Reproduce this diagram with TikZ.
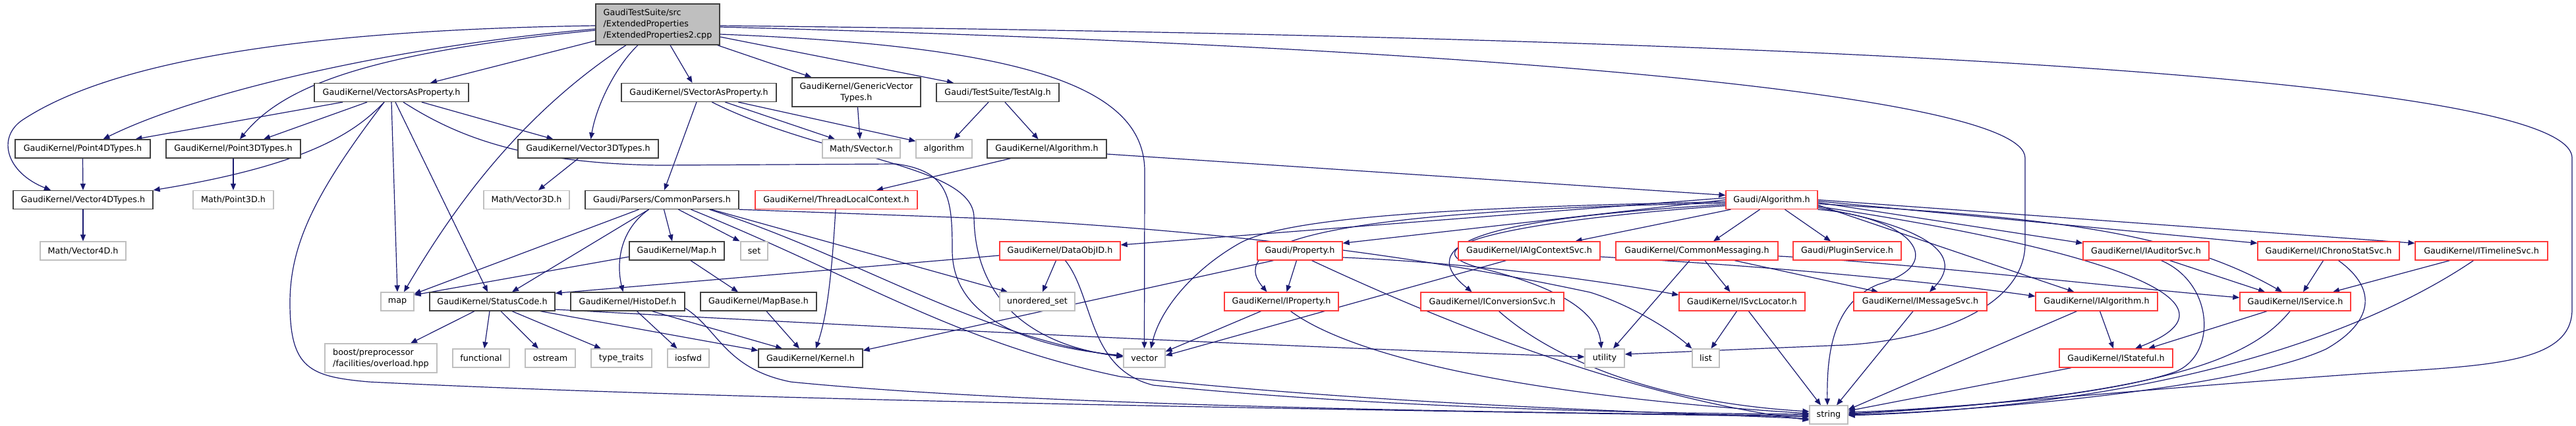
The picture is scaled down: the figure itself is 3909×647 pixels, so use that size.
\documentclass[tikz,border=0pt]{standalone}
\usepackage{fontspec}
\setmainfont{DejaVu Sans}
\usetikzlibrary{arrows.meta}
\pgfdeclarelayer{bg}
\pgfsetlayers{bg,main}
\definecolor{edgecol}{HTML}{191970}
\definecolor{greyb}{HTML}{BFBFBF}
\definecolor{darkb}{HTML}{404040}
\definecolor{redb}{HTML}{FF3A3A}
\newcommand\gfont{\fontsize{12.75pt}{17pt}\selectfont}
\tikzset{
 nd/.style={rectangle, inner sep=0pt, minimum height=28pt, line width=1.3pt, font=\gfont, text=black},
 blk/.style={nd, draw=darkb, fill=white},
 gry/.style={nd, draw=greyb, fill=white},
 rd/.style={nd, draw=redb, fill=white},
 dep/.style={draw=edgecol, line width=1.2pt, -{Triangle[length=10pt,width=8pt]}},
}
\begin{document}
\begin{tikzpicture}[x=1pt,y=-1pt]
\useasboundingbox (0,0) rectangle (3909,647);
% row 0
\node[blk, fill=greyb, minimum width=188pt, minimum height=62pt, align=left] (root) at (998,37) {GaudiTestSuite/src\\/ExtendedProperties\\/ExtendedProperties2.cpp};
% row 1
\node[blk, minimum width=234pt] (vap) at (594,140.5) {GaudiKernel/VectorsAsProperty.h};
\node[blk, minimum width=235pt] (svap) at (1060.5,140.5) {GaudiKernel/SVectorAsProperty.h};
\node[blk, minimum width=195pt, minimum height=44pt, align=center] (gvt) at (1299.5,140) {GaudiKernel/GenericVector\\Types.h};
\node[blk, minimum width=186pt] (testalg) at (1514,140.5) {Gaudi/TestSuite/TestAlg.h};
% row 2
\node[blk, minimum width=205pt] (p4d) at (125.5,226) {GaudiKernel/Point4DTypes.h};
\node[blk, minimum width=204pt] (p3d) at (354,226) {GaudiKernel/Point3DTypes.h};
\node[blk, minimum width=213pt] (v3d) at (892.5,226) {GaudiKernel/Vector3DTypes.h};
\node[gry, minimum width=118pt] (svec) at (1307,226) {Math/SVector.h};
\node[gry, minimum width=85pt] (algo) at (1432.5,226) {algorithm};
\node[blk, minimum width=181pt] (gkalg) at (1588.5,226) {GaudiKernel/Algorithm.h};
% row 3
\node[blk, minimum width=212pt] (v4d) at (126,303.5) {GaudiKernel/Vector4DTypes.h};
\node[gry, minimum width=122pt] (mp3d) at (354,303.5) {Math/Point3D.h};
\node[gry, minimum width=130pt] (mv3d) at (799,303.5) {Math/Vector3D.h};
\node[blk, minimum width=233pt] (cparsers) at (1004.5,303.5) {Gaudi/Parsers/CommonParsers.h};
\node[rd, minimum width=246pt] (tlc) at (1269,303.5) {GaudiKernel/ThreadLocalContext.h};
\node[rd, minimum width=139pt] (galg) at (2688.5,303.5) {Gaudi/Algorithm.h};
% row 4
\node[gry, minimum width=130pt] (mv4d) at (126,381) {Math/Vector4D.h};
\node[blk, minimum width=144pt] (maph) at (1027,381) {GaudiKernel/Map.h};
\node[gry, minimum width=41pt] (set) at (1144.5,381) {set};
\node[rd, minimum width=183pt] (dataobj) at (1608.5,381) {GaudiKernel/DataObjID.h};
\node[rd, minimum width=129pt] (prop) at (1972.5,381) {Gaudi/Property.h};
\node[rd, minimum width=215pt] (ialgctx) at (2320.5,381) {GaudiKernel/IAlgContextSvc.h};
\node[rd, minimum width=246pt] (cmsg) at (2575,381) {GaudiKernel/CommonMessaging.h};
\node[rd, minimum width=164pt] (plugin) at (2803,381) {Gaudi/PluginService.h};
\node[rd, minimum width=191pt] (iaud) at (3256.5,381) {GaudiKernel/IAuditorSvc.h};
\node[rd, minimum width=215pt] (ichrono) at (3533.5,381) {GaudiKernel/IChronoStatSvc.h};
\node[rd, minimum width=201pt] (itime) at (3765.5,381) {GaudiKernel/ITimelineSvc.h};
% row 5
\node[gry, minimum width=50pt] (map) at (603,458) {map};
\node[blk, minimum width=190pt] (status) at (747,458) {GaudiKernel/StatusCode.h};
\node[blk, minimum width=173pt] (histo) at (952.5,458) {GaudiKernel/HistoDef.h};
\node[blk, minimum width=176pt] (mapbase) at (1151,458) {GaudiKernel/MapBase.h};
\node[gry, minimum width=114pt] (uset) at (1574,458) {unordered\_set};
\node[rd, minimum width=173pt] (iprop) at (1944.5,458) {GaudiKernel/IProperty.h};
\node[rd, minimum width=217pt] (iconv) at (2264.5,458) {GaudiKernel/IConversionSvc.h};
\node[rd, minimum width=191pt] (isvcloc) at (2643.5,458) {GaudiKernel/ISvcLocator.h};
\node[rd, minimum width=202pt] (imsg) at (2914,458) {GaudiKernel/IMessageSvc.h};
\node[rd, minimum width=185pt] (ialg) at (3181.5,458) {GaudiKernel/IAlgorithm.h};
\node[rd, minimum width=168pt] (iserv) at (3483,458) {GaudiKernel/IService.h};
% row 6
\node[gry, minimum width=170pt, minimum height=44pt, align=left] (boost) at (578,544) {boost/preprocessor\\/facilities/overload.hpp};
\node[gry, minimum width=86pt] (functional) at (730,544) {functional};
\node[gry, minimum width=76pt] (ostream) at (835,544) {ostream};
\node[gry, minimum width=92pt] (typetraits) at (943,544) {type\_traits};
\node[gry, minimum width=63pt] (iosfwd) at (1044.5,544) {iosfwd};
\node[blk, minimum width=158pt] (kernel) at (1230,544) {GaudiKernel/Kernel.h};
\node[gry, minimum width=63pt] (vector) at (1736.5,544) {vector};
\node[gry, minimum width=60pt] (utility) at (2435,544) {utility};
\node[gry, minimum width=41pt] (list) at (2588.5,544) {list};
\node[rd, minimum width=172pt] (istateful) at (3211,544) {GaudiKernel/IStateful.h};
% row 7
\node[gry, minimum width=58pt] (string) at (2775,630) {string};

\begin{pgfonlayer}{bg}
% ---- root edges
\draw[dep] ([yshift=-2pt]root.west) .. controls (500,45) and (180,85) .. (33,183) .. controls (-5,210) and (10,262) .. ([xshift=-49pt]v4d.north);
\draw[dep] ([yshift=-7pt]root.west) .. controls (600,70) and (300,140) .. ([xshift=31pt]p4d.north);
\draw[dep] ([yshift=-9pt]root.west) .. controls (560,80) and (430,130) .. ([xshift=10pt]p3d.north);
\draw[dep] ([yshift=-25pt]root.west) -- ([xshift=59pt]vap.north);
\draw[dep] ([xshift=-48pt]root.south) .. controls (780,180) and (680,330) .. ([xshift=10pt]map.north);
\draw[dep] ([xshift=-30pt]root.south) .. controls (935,100) and (905,160) .. ([xshift=4pt]v3d.north);
\draw[dep] ([xshift=19pt]root.south) -- ([xshift=-10pt]svap.north);
\draw[dep] ([xshift=-4pt]root.south east) -- ([xshift=-68pt]gvt.north);
\draw[dep] ([yshift=-19pt]root.east) -- ([xshift=-67pt]testalg.north);
\draw[dep] ([yshift=-15pt]root.east) .. controls (1550,70) and (1737,130) .. (1737,260) -- (vector.north);
\draw[dep] ([yshift=-4pt]root.east) .. controls (2200,70) and (3073,140) .. (3073,240) -- (3073,370) .. controls (3073,460) and (2950,515) .. (2800,524) -- ([yshift=6pt]utility.east);
\draw[dep] ([yshift=-2pt]root.east) .. controls (2600,55) and (3903,110) .. (3903,240) -- (3903,470) .. controls (3903,560) and (3750,555) .. (3550,570) .. controls (3200,595) and (2950,622) .. ([yshift=4pt]string.east);

% ---- VectorsAsProperty
\draw[dep] ([xshift=-74pt]vap.south) -- ([xshift=80pt]p4d.north);
\draw[dep] ([xshift=-37pt]vap.south) -- ([xshift=46pt]p3d.north);
\draw[dep] ([xshift=-11pt]vap.south) .. controls (540,200) and (470,250) .. (v4d.north east);
\draw[dep] ([xshift=-11pt]vap.south) .. controls (480,290) and (440,370) .. (440,460) .. controls (440,560) and (470,572) .. (560,580) .. controls (1200,612) and (2300,626) .. ([yshift=-3pt]string.west);
\draw[dep] (vap.south) -- (map.north);
\draw[dep] ([xshift=6pt]vap.south) -- ([xshift=-7pt]status.north);
\draw[dep] ([xshift=18pt]vap.south) .. controls (690,205) and (790,248) .. (1000,251) -- (1360,249) .. controls (1440,260) and (1445,300) .. (1445,380) .. controls (1445,500) and (1600,530) .. ([yshift=4pt]vector.west);
\draw[dep] ([xshift=46pt]vap.south) -- ([xshift=-53pt]v3d.north);

% ---- SVectorAsProperty
\draw[dep] ([xshift=-3.5pt]svap.south) -- ([xshift=3.5pt]cparsers.north);
\draw[dep] ([xshift=20pt]svap.south) .. controls (1250,240) and (1477,250) .. (1478,330) .. controls (1480,480) and (1600,530) .. ([yshift=3pt]vector.west);
\draw[dep] ([xshift=40pt]svap.south) -- ([xshift=-40pt]svec.north);
\draw[dep] ([xshift=60pt]svap.south) -- ([yshift=-3pt]algo.north west);

\draw[dep] ([xshift=2pt]gvt.south) -- ([xshift=-2pt]svec.north);
\draw[dep] ([xshift=-14pt]testalg.south) -- ([xshift=15pt]algo.north);
\draw[dep] ([xshift=11pt]testalg.south) -- ([xshift=-13pt]gkalg.north);

\draw[dep] (p4d.south) -- (v4d.north);
\draw[dep] (p3d.south) -- (mp3d.north);
\draw[dep] (v4d.south) -- (mv4d.north);
\draw[dep] ([xshift=-15pt]v3d.south) -- ([xshift=18pt]mv3d.north);

% ---- GaudiKernel/Algorithm.h
\draw[dep] ([yshift=-8pt]gkalg.east) -- ([yshift=7pt]galg.west);
\draw[dep] ([xshift=-55pt]gkalg.south) -- ([xshift=61pt]tlc.north);
\draw[dep] ([xshift=-1pt]tlc.south) .. controls (1262,420) and (1255,480) .. ([xshift=8pt]kernel.north);

% ---- CommonParsers
\draw[dep] ([xshift=-35pt]cparsers.south) -- ([yshift=-3pt]map.north east);
\draw[dep] ([xshift=-20pt]cparsers.south) -- ([xshift=30pt]status.north);
\draw[dep] ([xshift=-20pt]cparsers.south) .. controls (940,350) and (935,400) .. ([xshift=-7pt]histo.north);
\draw[dep] ([xshift=3pt]cparsers.south) -- ([xshift=-7pt]maph.north);
\draw[dep] ([xshift=25pt]cparsers.south) -- ([xshift=-22pt]set.north);
\draw[dep] ([xshift=44pt]cparsers.south) .. controls (1300,420) and (1450,520) .. (1700,572) .. controls (2100,615) and (2500,625) .. ([yshift=-6pt]string.west);
\draw[dep] ([xshift=72pt]cparsers.south) .. controls (1300,390) and (1480,510) .. ([yshift=2pt]vector.west);
\draw[dep] ([xshift=75pt]cparsers.south) -- ([xshift=-45pt]uset.north);
\draw[dep] (cparsers.south east) -- (1500,332) .. controls (2000,358) and (2300,420) .. (2413,444) .. controls (2480,465) and (2540,505) .. (list.north west);

% ---- Map.h, MapBase
\draw[dep] ([yshift=-9pt]maph.west) -- ([yshift=10pt]map.east);
\draw[dep] ([xshift=21pt]maph.south) -- ([xshift=-31pt]mapbase.north);
\draw[dep] ([xshift=12pt]mapbase.south) -- ([xshift=-17pt]kernel.north);

% ---- StatusCode
\draw[dep] ([xshift=-27pt]status.south) -- ([xshift=45pt]boost.north);
\draw[dep] ([xshift=-4pt]status.south) -- ([xshift=5pt]functional.north);
\draw[dep] ([xshift=13pt]status.south) -- ([xshift=-18pt]ostream.north);
\draw[dep] ([xshift=30pt]status.south) -- ([xshift=-31pt]typetraits.north);
\draw[dep] ([xshift=73pt]status.south) -- ([yshift=-3pt]kernel.north west);
\draw[dep] ([yshift=-12pt]status.east) .. controls (1300,495) and (1900,525) .. ([yshift=2pt]utility.west);

% ---- HistoDef
\draw[dep] ([xshift=14pt]histo.south) -- ([xshift=-17pt]iosfwd.north);
\draw[dep] ([xshift=37pt]histo.south) -- ([xshift=-43pt]kernel.north);
\draw[dep] ([yshift=-10pt]histo.east) .. controls (1090,500) and (1100,560) .. (1200,580) .. controls (1600,620) and (2400,628) .. ([yshift=-1pt]string.west);

% ---- DataObjID
\draw[dep] ([yshift=-7pt]dataobj.west) -- ([yshift=-2pt]status.north east);
\draw[dep] ([xshift=-6pt]dataobj.south) -- ([xshift=8pt]uset.north);
\draw[dep] ([xshift=8pt]dataobj.south) .. controls (1660,450) and (1650,560) .. (1750,585) .. controls (2100,620) and (2500,628) .. ([yshift=1pt]string.west);

% ---- Property
\draw[dep] ([xshift=-5pt]prop.south) -- ([xshift=8pt]iprop.north);
\draw[dep] ([xshift=-40pt]prop.south) -- ([yshift=-3pt]kernel.north east);
\draw[dep] ([xshift=18pt]prop.south) .. controls (2150,470) and (2450,600) .. ([yshift=-8pt]string.west);
\draw[dep] ([yshift=-10pt]prop.east) .. controls (2250,400) and (2450,430) .. ([yshift=10pt]isvcloc.west);

% ---- IProperty
\draw[dep] ([xshift=-31pt]iprop.south) -- ([yshift=10pt]vector.east);
\draw[dep] ([xshift=14pt]iprop.south) .. controls (2050,540) and (2300,600) .. ([yshift=2pt]string.west);

% ---- IAlgContextSvc, IConversionSvc
\draw[dep] ([xshift=-35pt]ialgctx.south) -- ([yshift=4pt]vector.east);
\draw[dep] ([yshift=-9pt]ialgctx.east) .. controls (2700,405) and (2950,430) .. ([yshift=8pt]ialg.west);
\draw[dep] ([xshift=10pt]iconv.south) .. controls (2350,540) and (2500,610) .. ([yshift=5pt]string.west);

% ---- CommonMessaging
\draw[dep] ([xshift=12pt]cmsg.south) -- ([xshift=-18pt]isvcloc.north);
\draw[dep] ([xshift=57pt]cmsg.south) -- ([xshift=-64pt]imsg.north);
\draw[dep] ([xshift=-11pt]cmsg.south) -- ([xshift=13pt]utility.north);
\draw[dep] ([yshift=-8pt]cmsg.east) .. controls (2900,400) and (3200,435) .. ([yshift=6pt]iserv.west);

% ---- ISvcLocator, IMessageSvc
\draw[dep] ([xshift=-8pt]isvcloc.south) -- ([xshift=8pt]list.north);
\draw[dep] ([xshift=10pt]isvcloc.south) -- ([xshift=-12pt]string.north);
\draw[dep] ([xshift=-11pt]imsg.south) -- ([xshift=12pt]string.north);

% ---- Gaudi/Algorithm.h
\draw[dep] ([xshift=-18pt]galg.south) -- ([xshift=25pt]cmsg.north);
\draw[dep] ([xshift=20pt]galg.south) -- ([xshift=-25pt]plugin.north);
\draw[dep] ([yshift=3pt]galg.west) -- ([yshift=9pt]dataobj.east);
\draw[dep] (galg.west) -- ([yshift=-3pt]prop.north east);
\draw[dep] ([xshift=8pt]galg.south west) -- ([xshift=70pt]ialgctx.north);
\draw[dep] ([yshift=-3pt]galg.west) .. controls (2200,315) and (1950,330) .. (1880,370) .. controls (1810,410) and (1760,470) .. ([xshift=10pt]vector.north);
\draw[dep] ([yshift=-5pt]galg.west) .. controls (2000,320) and (1860,370) .. ([xshift=-22pt]iprop.north);
\draw[dep] ([yshift=-7pt]galg.west) .. controls (2300,330) and (2130,360) .. ([xshift=-31pt]iconv.north);
\draw[dep] ([yshift=-9pt]galg.west) .. controls (2300,335) and (2120,375) .. (2250,408) .. controls (2380,440) and (2425,480) .. ([xshift=-5pt]utility.north);
\draw[dep] (galg.south east) .. controls (2900,330) and (2960,400) .. (2850,432) .. controls (2780,460) and (2772,540) .. ([xshift=-2pt]string.north);
\draw[dep] ([yshift=-12pt]galg.east) .. controls (2900,340) and (2990,380) .. ([xshift=14pt]imsg.north);
\draw[dep] ([yshift=-4pt]galg.east) -- ([yshift=-3pt]iaud.north west);
\draw[dep] ([yshift=-2pt]galg.east) -- ([yshift=-3pt]ichrono.north west);
\draw[dep] (galg.east) -- ([yshift=-3pt]itime.north west);
\draw[dep] ([yshift=-8pt]galg.east) -- ([xshift=-34pt]ialg.north);
\draw[dep] ([yshift=-6pt]galg.east) .. controls (3100,330) and (3300,350) .. ([xshift=-20pt]iserv.north);
\draw[dep] ([yshift=-10pt]galg.east) .. controls (3200,380) and (3420,460) .. ([xshift=29pt]istateful.north);

% ---- IAuditorSvc, IChronoStatSvc, ITimelineSvc
\draw[dep] ([xshift=36pt]iaud.south) -- ([xshift=-46pt]iserv.north);
\draw[dep] ([xshift=23pt]iaud.south) .. controls (3360,430) and (3365,540) .. (3300,565) .. controls (3200,600) and (2950,622) .. ([yshift=2pt]string.east);
\draw[dep] ([xshift=-8pt]ichrono.south) -- ([xshift=12pt]iserv.north);
\draw[dep] ([xshift=15pt]ichrono.south) .. controls (3610,440) and (3600,490) .. (3530,530) .. controls (3400,590) and (3000,625) .. (string.east);
\draw[dep] ([xshift=-48pt]itime.south) -- ([xshift=57pt]iserv.north);
\draw[dep] ([xshift=-12pt]itime.south) .. controls (3600,500) and (3300,615) .. ([yshift=-1pt]string.east);

% ---- IAlgorithm, IService, IStateful
\draw[dep] ([xshift=5pt]ialg.south) -- ([xshift=-4pt]istateful.north);
\draw[dep] ([xshift=-30pt]ialg.south) -- ([yshift=8pt]string.east);
\draw[dep] ([xshift=-43pt]iserv.south) -- ([xshift=49pt]istateful.north);
\draw[dep] ([xshift=-8pt]iserv.south) .. controls (3420,540) and (3300,600) .. ([yshift=1pt]string.east);
\draw[dep] ([xshift=-68pt]istateful.south) -- ([yshift=6pt]string.east);
\end{pgfonlayer}
\end{tikzpicture}
\end{document}
